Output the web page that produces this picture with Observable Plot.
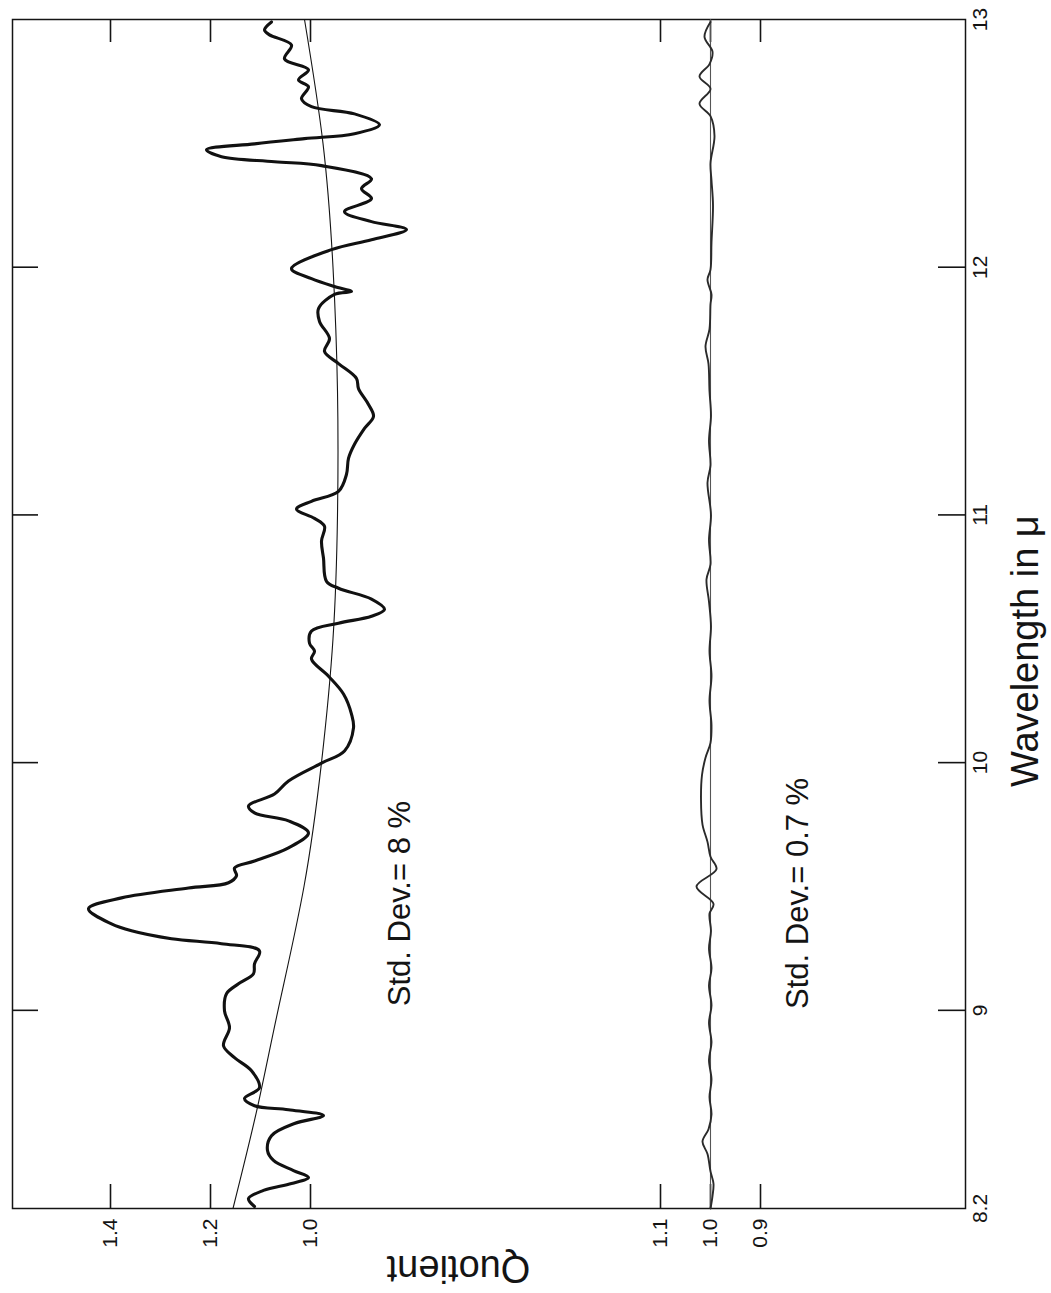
<!DOCTYPE html>
<html>
<head>
<meta charset="utf-8">
<script src="https://cdn.jsdelivr.net/npm/d3@7"></script>
<script src="https://cdn.jsdelivr.net/npm/@observablehq/plot@0.6"></script>
<style>
  html, body { margin: 0; padding: 0; background: #fff; }
  #chart svg { display: block; }
</style>
</head>
<body>
<div id="chart"></div>
<script>
// ---- data ----
// Upper curve (measured quotient), wavelength in micron
const upperWavelength = [8.208,8.240,8.273,8.301,8.325,8.353,8.394,8.434,8.494,8.543,8.575,8.599,8.615,8.644,8.688,8.756,8.809,8.857,8.930,8.998,9.067,9.107,9.148,9.188,9.240,9.269,9.289,9.321,9.349,9.410,9.454,9.494,9.515,9.543,9.575,9.603,9.656,9.716,9.765,9.797,9.825,9.873,9.926,9.998,10.047,10.140,10.196,10.277,10.349,10.418,10.450,10.482,10.531,10.563,10.591,10.619,10.660,10.704,10.732,10.825,10.894,10.954,10.986,11.023,11.055,11.095,11.164,11.228,11.285,11.349,11.398,11.446,11.510,11.551,11.611,11.660,11.712,11.781,11.833,11.890,11.902,11.922,11.954,11.994,12.071,12.111,12.152,12.184,12.224,12.277,12.317,12.357,12.410,12.426,12.446,12.474,12.498,12.519,12.539,12.575,12.619,12.648,12.680,12.728,12.756,12.797,12.841,12.897,12.938,12.958,12.990];
const upperQuotient = [1.112,1.124,1.094,1.038,1.004,1.034,1.074,1.086,1.078,1.032,0.974,1.044,1.112,1.132,1.102,1.118,1.152,1.174,1.162,1.172,1.168,1.144,1.114,1.112,1.102,1.178,1.278,1.358,1.398,1.444,1.378,1.244,1.164,1.148,1.152,1.112,1.044,1.004,1.044,1.112,1.124,1.072,1.044,0.978,0.932,0.914,0.918,0.934,0.964,0.998,0.992,1.002,0.998,0.944,0.878,0.852,0.878,0.944,0.968,0.974,0.978,0.972,0.992,1.028,0.998,0.944,0.928,0.924,0.912,0.892,0.874,0.884,0.904,0.908,0.944,0.972,0.962,0.982,0.984,0.952,0.918,0.952,0.998,1.038,0.958,0.878,0.808,0.878,0.932,0.878,0.898,0.878,0.978,1.072,1.178,1.208,1.112,1.012,0.912,0.862,0.912,0.998,1.018,1.004,1.024,1.004,1.052,1.038,1.082,1.092,1.078];
// Smooth fit to the upper curve
const upperFitWavelength = [8.2,8.6,9.0,9.5,10.0,10.5,11.0,11.5,12.0,12.5,13.0];
const upperFitQuotient   = [1.155,1.107,1.065,1.013,0.978,0.955,0.946,0.946,0.955,0.975,1.012];
// Lower curve (corrected quotient)
const lowerWavelength = [8.20,8.25,8.30,8.35,8.42,8.47,8.52,8.58,8.65,8.72,8.80,8.87,8.95,9.02,9.10,9.17,9.25,9.32,9.39,9.43,9.50,9.57,9.62,9.68,9.75,9.85,9.95,10.02,10.08,10.15,10.25,10.35,10.45,10.55,10.65,10.74,10.80,10.90,11.00,11.13,11.20,11.30,11.40,11.50,11.61,11.68,11.75,11.85,11.89,11.95,11.99,12.10,12.25,12.35,12.42,12.53,12.61,12.66,12.72,12.77,12.82,12.87,12.93,12.99];
const lowerQuotient   = [1.000,0.996,0.994,1.000,1.006,1.016,1.004,0.998,1.002,0.998,1.003,0.998,1.003,0.998,1.003,0.998,1.003,0.999,1.002,0.994,1.028,0.988,1.000,1.006,1.016,1.019,1.017,1.010,1.000,0.998,1.002,0.998,1.002,0.999,1.003,1.008,1.000,1.003,0.999,1.006,1.000,1.003,0.999,1.002,1.004,1.010,1.002,1.000,0.998,1.006,1.000,0.998,0.995,0.998,1.000,0.992,1.000,1.022,1.000,1.022,1.002,0.996,1.012,1.000];
const lowerFitWavelength = [8.2,13.0];
const lowerFitQuotient   = [1.0,1.0];
// Axis tick values
const upperTicks = [1.4,1.2,1.0];
const lowerTicks = [1.1,1.0,0.9];
const wavelengthTicks = [8.2,9,10,11,12,13];
const wavelengthTickLabels = ["8.2","9","10","11","12","13"];
// Annotations
const annotationText = ["Std. Dev.= 8 %","Std. Dev.= 0.7 %"];
const annotationWavelength = [9.431,9.472];
const annotationQuotient = [0.82,0.824];
const annotationPanel = ["upper","lower"];

// ---- layout ----
const LOWER_OFFSET = 0.8;           // lower panel is drawn 0.8 quotient units to the right
const W = 1051, H = 1293;
const mL = 12, mR = 86, mT = 19, mB = 85;
const innerW = W - mL - mR, innerH = H - mT - mB;
const FONT = "'Liberation Sans', Arial, Helvetica, sans-serif";
const ink = "#141414";

const zip = (a, b) => a.map((v, i) => ({w: v, q: b[i]}));
const upper = zip(upperWavelength, upperQuotient);
const upperFit = zip(upperFitWavelength, upperFitQuotient);
const lower = zip(lowerWavelength, lowerQuotient);
const lowerFit = zip(lowerFitWavelength, lowerFitQuotient);
const quotientTickPos = [
  ...upperTicks.map(v => ({pos: v, label: v.toFixed(1)})),
  ...lowerTicks.map(v => ({pos: v - LOWER_OFFSET, label: v.toFixed(1)}))
];
const innerWave = wavelengthTicks.slice(1, -1);
const annotations = annotationText.map((t, i) => ({
  text: t, w: annotationWavelength[i],
  x: annotationPanel[i] === "lower" ? annotationQuotient[i] - LOWER_OFFSET : annotationQuotient[i]
}));

const chart = Plot.plot({
  width: W, height: H,
  marginLeft: mL, marginRight: mR, marginTop: mT, marginBottom: mB,
  style: {fontFamily: FONT, background: "#fff", color: ink},
  x: {domain: [1 + (310 - mL) / 500, 1 - (W - mR - 310) / 500], axis: null},
  y: {domain: [8.2, 13], axis: null},
  marks: [
    Plot.frame({stroke: ink, strokeWidth: 1.5}),
    // inward ticks, all four sides
    Plot.ruleX(quotientTickPos, {x: "pos", insetTop: innerH - 24, stroke: ink, strokeWidth: 1.6}),
    Plot.ruleX(quotientTickPos, {x: "pos", insetBottom: innerH - 23, stroke: ink, strokeWidth: 1.6}),
    Plot.ruleY(innerWave, {y: d => d, insetRight: innerW - 26, stroke: ink, strokeWidth: 1.6}),
    Plot.ruleY(innerWave, {y: d => d, insetLeft: innerW - 27, stroke: ink, strokeWidth: 1.6}),
    // fits
    Plot.line(upperFit, {x: "q", y: "w", curve: "natural", stroke: ink, strokeWidth: 1.1}),
    Plot.line(lowerFit, {x: d => d.q - LOWER_OFFSET, y: "w", stroke: "#555", strokeWidth: 1.1}),
    // curves
    Plot.line(lower, {x: d => d.q - LOWER_OFFSET, y: "w", curve: "catmull-rom", stroke: "#2a2a2a", strokeWidth: 1.9}),
    Plot.line(upper, {x: "q", y: "w", curve: "catmull-rom", stroke: "#111", strokeWidth: 3.1, strokeLinejoin: "round"}),
    // quotient tick labels
    Plot.text(quotientTickPos, {x: "pos", text: "label", frameAnchor: "bottom", dy: 10,
      rotate: -90, textAnchor: "end", lineAnchor: "middle", fontSize: 21, fill: ink}),
    // wavelength tick labels
    Plot.text(wavelengthTicks, {y: d => d, text: (d, i) => wavelengthTickLabels[i], frameAnchor: "right", dx: 7,
      rotate: -90, textAnchor: "middle", lineAnchor: "top", fontSize: 21, fill: ink}),
    // annotations
    Plot.text(annotations, {x: "x", y: "w", text: "text", rotate: -90, textAnchor: "middle",
      lineAnchor: "middle", fontSize: 31, fill: ink}),
    // axis titles
    Plot.text(["Quotient"], {x: [0.704], frameAnchor: "bottom", dy: 60, rotate: 180,
      textAnchor: "middle", lineAnchor: "middle", fontSize: 38, fill: ink}),
    Plot.text(["Wavelength in μ"], {y: [10.45], frameAnchor: "right", dx: 60, rotate: -90,
      textAnchor: "middle", lineAnchor: "middle", fontSize: 38, fill: ink})
  ]
});
document.getElementById("chart").append(chart);
</script>
</body>
</html>
